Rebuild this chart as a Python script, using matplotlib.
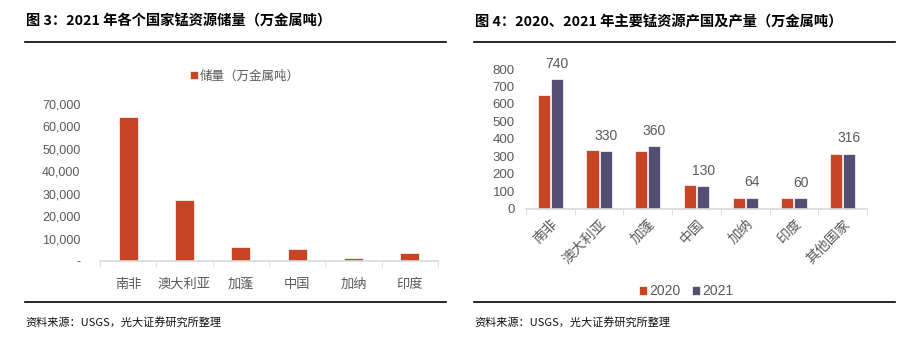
import matplotlib.pyplot as plt
import numpy as np
from matplotlib.lines import Line2D

plt.rcParams['font.family'] = ['Liberation Sans', 'Noto Sans CJK SC', 'DejaVu Sans']

# data
countries_res = ['南非', '澳大利亚', '加蓬', '中国', '加纳', '印度']
reserves = [64000, 27000, 6100, 5400, 1500, 3400]

countries_prod = ['南非', '澳大利亚', '加蓬', '中国', '加纳', '印度', '其他国家']
prod_2020 = [650, 334, 333, 134, 64, 64, 316]
prod_2021 = [740, 330, 360, 130, 64, 60, 316]

red = '#C74425'
purple = '#554E72'
gray = '#595959'
axis_gray = '#D9D9D9'
cjk = ['Noto Sans CJK SC', 'DejaVu Sans']

W, H = 911, 354
fig = plt.figure(figsize=(W / 100, H / 100), dpi=100)


def fx(px):
    return px / W


def fy(py):
    return 1 - py / H


# titles, rules and source notes
fig.text(fx(26), fy(22), '图 3：2021 年各个国家锰资源储量（万金属吨）', family=cjk,
         fontsize=10.3, fontweight='bold', va='center', ha='left')
fig.text(fx(475), fy(22), '图 4：2020、2021 年主要锰资源产国及产量（万金属吨）', family=cjk,
         fontsize=10.3, fontweight='bold', va='center', ha='left')
for x0, x1 in [(25, 446), (474, 895)]:
    fig.add_artist(Line2D([fx(x0), fx(x1)], [fy(42), fy(42)], color='black', lw=1.2))
    fig.add_artist(Line2D([fx(x0), fx(x1)], [fy(302), fy(302)], color='black', lw=1.2))
    fig.text(fx(x0), fy(322), '资料来源：USGS，光大证券研究所整理', family=cjk,
             fontsize=8, va='center', ha='left', color='#111111')

# left chart
ax1 = fig.add_axes([fx(100), fy(261), fx(438 - 100), (261 - 104) / H])
x = np.arange(len(countries_res))
ax1.bar(x, reserves, width=0.34, color=red, edgecolor='white', linewidth=0.5,
        label='储量（万金属吨）')
ax1.set_xlim(-0.5, len(countries_res) - 0.5)
ax1.set_ylim(0, 70000)
ax1.set_yticks(np.arange(0, 70001, 10000))
ax1.set_yticklabels(['-'] + [f'{v:,}' for v in range(10000, 70001, 10000)])
ax1.set_xticks(x)
ax1.set_xticklabels(countries_res, family=cjk)
ax1.set_xticks(np.arange(-0.5, len(countries_res)), minor=True)
ax1.tick_params(axis='x', which='major', length=0, colors=gray, labelsize=9.5, pad=12)
ax1.tick_params(axis='x', which='minor', length=4, color=axis_gray, direction='out')
ax1.tick_params(axis='y', length=0, colors=gray, labelsize=9, pad=14)
for s in ['top', 'right', 'left']:
    ax1.spines[s].set_visible(False)
ax1.spines['bottom'].set_color(axis_gray)
ax1.spines['bottom'].set_linewidth(1.2)
leg1 = ax1.legend(loc='center', bbox_to_anchor=((245 - 100) / 338, (261 - 76) / 157),
                  frameon=False, prop={'family': cjk, 'size': 9},
                  handlelength=0.6, handleheight=0.6, handletextpad=0.2)
for t in leg1.get_texts():
    t.set_color(gray)

# right chart
ax2 = fig.add_axes([fx(526), fy(208.7), fx(867 - 526), (208.7 - 69) / H])
x2 = np.arange(len(countries_prod))
bw = 0.25
b1 = ax2.bar(x2 - bw / 2 - 0.01, prod_2020, width=bw, color=red, edgecolor='white',
             linewidth=0.5, label='2020')
b2 = ax2.bar(x2 + bw / 2 + 0.01, prod_2021, width=bw, color=purple, edgecolor='white',
             linewidth=0.5, label='2021')
for rect, v in zip(b2, prod_2021):
    ax2.annotate(str(v), (rect.get_x() + rect.get_width() / 2, rect.get_height()),
                 xytext=(0, 6), textcoords='offset points', ha='center', va='bottom',
                 color=gray, fontsize=10)
ax2.set_xlim(-0.5, len(countries_prod) - 0.5)
ax2.set_ylim(0, 800)
ax2.set_yticks(np.arange(0, 801, 100))
ax2.set_xticks(x2)
ax2.set_xticklabels(countries_prod, family=cjk, rotation=45, ha='right',
                    rotation_mode='anchor')
ax2.set_xticks(np.arange(-0.5, len(countries_prod)), minor=True)
ax2.tick_params(axis='x', which='major', length=0, colors=gray, labelsize=10, pad=6)
ax2.tick_params(axis='x', which='minor', length=4, color=axis_gray, direction='out')
ax2.tick_params(axis='y', length=0, colors=gray, labelsize=9.5, pad=8)
for s in ['top', 'right', 'left']:
    ax2.spines[s].set_visible(False)
ax2.spines['bottom'].set_color(axis_gray)
ax2.spines['bottom'].set_linewidth(1.2)
leg2 = fig.legend(handles=[b1, b2], loc='center', bbox_to_anchor=(fx(686), fy(291)),
                  ncol=2, frameon=False, prop={'size': 10}, handlelength=0.6,
                  handleheight=0.6, handletextpad=0.15, columnspacing=0.8)
for t in leg2.get_texts():
    t.set_color(gray)

fig.savefig('out.png', dpi=100)
